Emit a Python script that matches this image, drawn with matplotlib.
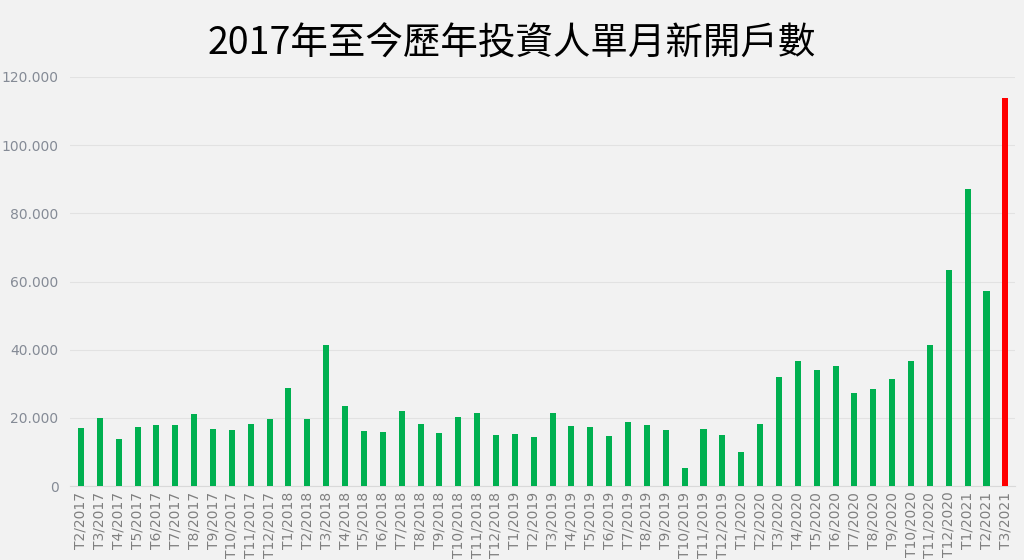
import matplotlib
matplotlib.use("Agg")
import matplotlib.pyplot as plt
from matplotlib.ticker import FuncFormatter

months = (
    ["T%d/2017" % m for m in range(2, 13)]
    + ["T%d/2018" % m for m in range(1, 13)]
    + ["T%d/2019" % m for m in range(1, 13)]
    + ["T%d/2020" % m for m in range(1, 13)]
    + ["T%d/2021" % m for m in range(1, 4)]
)
accounts = [
    16900, 20100, 13800, 17400, 17800, 18000, 21100, 16600, 16500, 18100, 19600,
    28800, 19600, 41400, 23500, 16300, 16000, 21900, 18200, 15700, 20300, 21400, 15100,
    15300, 14400, 21400, 17700, 17400, 14600, 18800, 18000, 16500, 5200, 16700, 15000,
    10000, 18300, 31900, 36800, 34100, 35100, 27200, 28500, 31500, 36600, 41300, 63400,
    87000, 57200, 113800,
]
title = "2017年至今歷年投資人單月新開戶數"


def thousands(v, pos):
    # dot as thousands separator, like the source
    return f"{int(v):,}".replace(",", ".")


bg = "#f2f2f2"
colors = ["#00b050"] * (len(accounts) - 1) + ["#ff0000"]

fig = plt.figure(figsize=(10.24, 5.6), dpi=100, facecolor=bg)
ax = fig.add_axes([0.068, 0.132, 0.923, 0.7305])
ax.set_facecolor(bg)

x = range(len(accounts))
ax.bar(x, accounts, width=0.32, color=colors, zorder=3)

ax.set_xlim(-0.6, len(accounts) - 0.5)
ax.set_ylim(0, 120000)
ax.set_yticks(range(0, 120001, 20000))
ax.yaxis.set_major_formatter(FuncFormatter(thousands))
ax.set_xticks(list(x))
ax.set_xticklabels(months, rotation=90)
ax.grid(axis="y", color="#e2e2e2", linewidth=0.8, zorder=0)
for s in ax.spines.values():
    s.set_visible(False)
ax.spines["bottom"].set_visible(True)
ax.spines["bottom"].set_color("#d9d9d9")
ax.tick_params(axis="both", length=0, colors="#858b96", labelsize=10)
ax.tick_params(axis="x", colors="#7f7f7f", pad=4)
ax.tick_params(axis="y", pad=8)

fig.text(0.5, 0.922, title, ha="center", va="center", fontsize=27,
         family=["Noto Sans CJK TC", "DejaVu Sans"], color="#000000")

fig.savefig("out.png", dpi=100, facecolor=bg)
